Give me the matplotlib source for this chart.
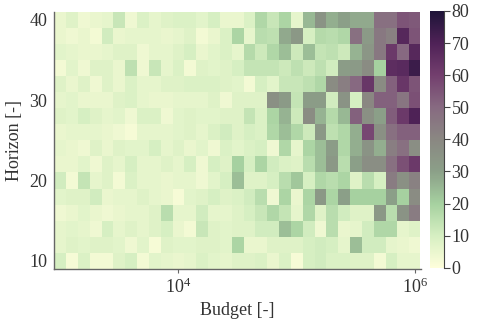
import numpy as np
import matplotlib
matplotlib.use("Agg")
import matplotlib.pyplot as plt
from matplotlib.colors import LinearSegmentedColormap
from matplotlib.ticker import FixedLocator, NullLocator

plt.rcParams['font.family'] = ['Liberation Serif', 'DejaVu Serif']
plt.rcParams['mathtext.fontset'] = 'stix'

# budget grid (log-spaced) and horizon grid
budget = np.logspace(3, 6, 31)
horizon = [40, 38, 36, 34, 32, 30, 28, 26, 24, 22, 20, 18, 16, 14, 12, 10]

# cell values, one row per horizon (top row = 40)
values = [
    [5, 8, 4, 5, 6, 13, 4, 9, 6, 8, 9, 9, 7, 10, 5, 5, 9, 18, 13, 19, 6, 25, 35, 27, 30, 28, 28, 48, 48, 55, 54],
    [5, 4, 5, 3, 11, 5, 6, 6, 6, 5, 6, 8, 3, 5, 9, 19, 6, 16, 15, 28, 33, 10, 17, 16, 18, 48, 32, 45, 42, 68, 55],
    [7, 6, 5, 5, 6, 8, 8, 4, 6, 6, 8, 10, 5, 7, 9, 6, 17, 12, 18, 24, 12, 24, 14, 15, 12, 26, 34, 45, 62, 50, 68],
    [3, 7, 4, 8, 8, 5, 15, 4, 13, 6, 9, 3, 8, 7, 8, 10, 14, 14, 14, 12, 15, 12, 15, 11, 31, 32, 38, 20, 66, 67, 74],
    [8, 5, 8, 4, 8, 5, 9, 6, 6, 8, 8, 9, 9, 9, 8, 7, 3, 10, 7, 13, 13, 15, 18, 38, 43, 50, 63, 38, 52, 63, 55],
    [6, 7, 5, 5, 5, 8, 9, 6, 5, 5, 6, 6, 6, 8, 4, 8, 8, 8, 36, 32, 14, 31, 31, 11, 35, 10, 40, 52, 52, 46, 56],
    [8, 7, 10, 8, 6, 7, 4, 9, 9, 4, 7, 8, 7, 7, 8, 8, 14, 9, 19, 26, 12, 38, 26, 17, 25, 52, 36, 30, 53, 62, 70],
    [5, 6, 6, 6, 5, 4, 2, 6, 6, 6, 7, 8, 6, 9, 11, 8, 10, 9, 18, 24, 18, 12, 33, 15, 18, 27, 58, 36, 48, 52, 52],
    [6, 5, 4, 8, 5, 8, 7, 7, 10, 6, 8, 5, 7, 4, 9, 7, 9, 10, 4, 18, 6, 19, 24, 31, 18, 27, 35, 27, 43, 48, 37],
    [5, 5, 7, 4, 8, 6, 10, 6, 6, 8, 6, 10, 4, 10, 8, 20, 10, 19, 11, 9, 8, 16, 24, 33, 16, 30, 37, 37, 48, 56, 62],
    [11, 3, 14, 6, 8, 3, 9, 6, 6, 5, 6, 6, 4, 7, 10, 24, 8, 8, 10, 16, 22, 10, 18, 16, 19, 8, 16, 10, 44, 36, 42],
    [7, 8, 8, 11, 5, 6, 6, 8, 6, 5, 2, 7, 8, 10, 8, 9, 11, 16, 4, 19, 5, 19, 33, 19, 30, 20, 20, 20, 30, 20, 38],
    [4, 5, 7, 5, 4, 5, 6, 6, 8, 16, 6, 6, 11, 6, 6, 8, 10, 13, 18, 14, 6, 18, 8, 16, 11, 8, 8, 33, 16, 35, 44],
    [6, 7, 6, 4, 10, 6, 8, 6, 8, 10, 5, 3, 13, 8, 7, 8, 8, 11, 11, 24, 19, 11, 4, 16, 5, 6, 11, 18, 18, 6, 8],
    [6, 8, 7, 8, 8, 7, 4, 7, 2, 8, 7, 7, 8, 8, 7, 19, 5, 5, 8, 8, 8, 10, 11, 10, 6, 24, 11, 11, 6, 5, 4],
    [10, 2, 9, 3, 3, 8, 10, 3, 7, 6, 5, 6, 9, 7, 6, 8, 8, 9, 5, 9, 2, 10, 11, 9, 9, 8, 8, 3, 10, 6, 6],
]

cmap = LinearSegmentedColormap.from_list("yg_purple", [
    "#fefedb", "#d6efc2", "#a6d1a0", "#8b9f88", "#8a8782",
    "#876a81", "#733f6e", "#4f2257", "#1e1438"])

fig = plt.figure(figsize=(4.8, 3.2), dpi=100)
ax = fig.add_axes([0.1125, 0.16, 0.764, 0.803])
cax = fig.add_axes([0.896, 0.163, 0.03, 0.803])

mesh = ax.pcolormesh(budget, horizon, np.array(values), cmap=cmap,
                     vmin=0, vmax=80, shading='nearest')
ax.set_xscale('log')
ax.set_xlim(10 ** 2.95, 10 ** 6.05)
ax.set_ylim(9, 41)
ax.xaxis.set_major_locator(FixedLocator([1e4, 1e6]))
ax.xaxis.set_minor_locator(NullLocator())
ax.set_yticks([10, 20, 30, 40])

for s in ['top', 'right']:
    ax.spines[s].set_visible(False)
for s in ['left', 'bottom']:
    ax.spines[s].set_color('#666666')
    ax.spines[s].set_linewidth(1.0)

ax.tick_params(axis='x', length=3, width=0.8, color='#666666',
               labelsize=13, labelcolor='#333333', pad=3)
ax.tick_params(axis='y', length=0, labelsize=13, labelcolor='#333333', pad=5)
ax.set_xlabel('Budget [-]', fontsize=13, color='#333333', labelpad=4)
ax.set_ylabel('Horizon [-]', fontsize=13, color='#333333', labelpad=4)

cbar = fig.colorbar(mesh, cax=cax)
cbar.outline.set_visible(False)
cax.spines['right'].set_visible(True)
cax.spines['right'].set_color('#444444')
cbar.set_ticks([0, 10, 20, 30, 40, 50, 60, 70, 80])
cax.tick_params(length=4, width=0.8, color='#444444',
                labelsize=13, labelcolor='#333333', pad=1)

fig.savefig('out.png', dpi=100)
